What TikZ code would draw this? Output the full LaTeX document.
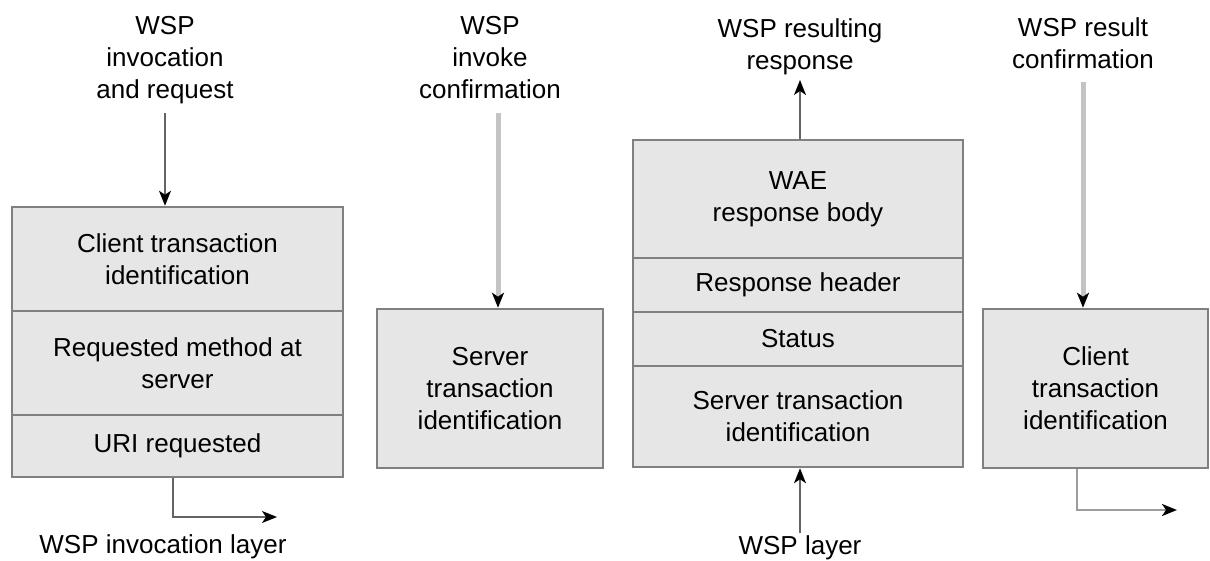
\documentclass[tikz,border=0pt]{standalone}
\usepackage{fontspec}
\setmainfont{Liberation Sans}
\usetikzlibrary{arrows.meta}
\definecolor{boxfill}{RGB}{230,230,230}
\definecolor{boxline}{RGB}{128,128,128}
\definecolor{paleline}{RGB}{196,196,196}
\definecolor{darkline}{RGB}{100,100,100}

\begin{document}
\begin{tikzpicture}[x=1pt, y=-1pt,
	every node/.style={font=\fontsize{26}{32}\selectfont},
	sect/.style={draw=boxline, fill=boxfill, line width=2.5pt, align=center, inner sep=0pt},
	lbl/.style={align=center, inner sep=0pt},
	flow/.style={draw=darkline, line width=1.6pt, -{Stealth[length=15pt,width=12pt,inset=4pt,color=black]}},
	paleflow/.style={draw=paleline, line width=5pt, -{Stealth[length=15pt,width=12pt,inset=4pt,color=black]}},
	paleout/.style={draw=paleline!80!black, line width=2.5pt, -{Stealth[length=15pt,width=12pt,inset=4pt,color=black]}}]
	\useasboundingbox (0,0) rectangle (1210,561);

	\node[sect, minimum width=331pt, minimum height=104pt] (cti) at (177.5,259) {Client transaction\\identification};
	\node[sect, minimum width=331pt, minimum height=104pt] (rma) at (177.5,363) {Requested method at\\server};
	\node[sect, minimum width=331pt, minimum height=62pt] (uri) at (177.5,446) {URI requested};

	\node[sect, minimum width=226pt, minimum height=159pt] (sti) at (490,388.5) {Server\\transaction\\identification};

	\node[sect, minimum width=330pt, minimum height=118pt] (wae) at (798,199) {WAE\\response body};
	\node[sect, minimum width=330pt, minimum height=54pt] (rsh) at (798,285) {Response header};
	\node[sect, minimum width=330pt, minimum height=54pt] (sts) at (798,339) {Status};
	\node[sect, minimum width=330pt, minimum height=101pt] (sti2) at (798,416.5) {Server transaction\\identification};

	\node[sect, minimum width=225pt, minimum height=159pt] (cti2) at (1095.5,388.5) {Client\\transaction\\identification};

	\node[lbl] (invreq) at (165,60) {WSP\\invocation\\and request};
	\node[lbl] (invconf) at (490,58) {WSP\\invoke\\confirmation};
	\node[lbl] (resresp) at (800,47) {WSP resulting\\response};
	\node[lbl] (resconf) at (1083,43) {WSP result\\confirmation};
	\node[lbl] (invlay) at (163,547) {WSP invocation layer};
	\node[lbl] (wsplay) at (800,548) {WSP layer};

	\coordinate (in1) at (165,113);
	\coordinate (out1) at (173,517);
	\coordinate (end1) at (277,517);
	\coordinate (in2) at (498,113);
	\coordinate (up3) at (800,80);
	\coordinate (low3) at (800,533);
	\coordinate (in4) at (1083,82);
	\coordinate (out4) at (1077,510);
	\coordinate (end4) at (1177,510);

	\draw[flow] (in1) -- (in1 |- cti.north);
	\draw[flow] (uri.south -| out1) -- (out1) -- (end1);
	\draw[paleflow] (in2) -- (in2 |- sti.north);
	\draw[flow] (up3 |- wae.north) -- (up3);
	\draw[flow] (low3) -- (low3 |- sti2.south);
	\draw[paleflow] (in4) -- (in4 |- cti2.north);
	\draw[paleout] (cti2.south -| out4) -- (out4) -- (end4);
\end{tikzpicture}
\end{document}
